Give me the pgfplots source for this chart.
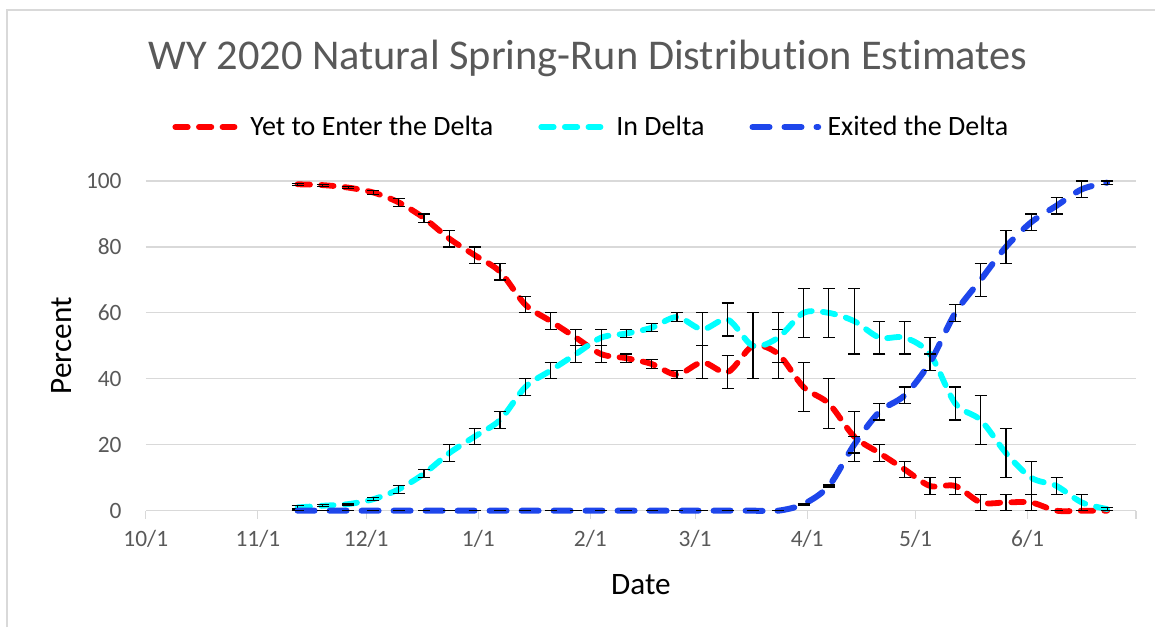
\documentclass[border=0pt]{standalone}
\usepackage{fontspec}
\setmainfont{Carlito}[Ligatures=NoCommon]
\usepackage{pgfplots}
\pgfplotsset{compat=1.18}
\usepackage{pgfplotstable}
\definecolor{gridgray}{HTML}{D9D9D9}
\definecolor{txtgray}{HTML}{595959}
\definecolor{sred}{HTML}{FF0000}
\definecolor{scyan}{HTML}{00FFFF}
\definecolor{sblue}{RGB}{30,70,235}
\pgfplotsset{
  thin legend/.style={legend image code/.code={\path[draw=none,fill=none] (0pt,-3pt) rectangle (33pt,3pt); \draw[##1, overlay] (1.45pt,0pt) -- (31.05pt,0pt);}},
  thick legend/.style={legend image code/.code={\path[draw=none,fill=none] (0pt,-3pt) rectangle (33pt,3pt); \draw[##1, overlay] (1.5pt,0pt) -- (34.35pt,0pt);}},
  redline/.style={sred, line width=2.9pt, line cap=round, dash pattern=on 6.2pt off 5.6pt},
  cyanline/.style={scyan, line width=2.9pt, line cap=round, dash pattern=on 6.2pt off 5.6pt},
  blueline/.style={sblue, line width=3pt, line cap=round, dash pattern=on 8.5pt off 7.5pt},
}

\pgfplotstableread{
d r re c ce b be
42 99 0.3 1 0.5 0 0
49 98.75 0.3 1.5 0.3 0 0
56 98 0.3 2 0.3 0 0
63 96.5 0.5 3.5 0.5 0 0
70 93.5 1.25 6.5 1.25 0 0
77 88.75 1.25 11.25 1.25 0 0
84 82.5 2.5 17.5 2.5 0 0
91 77.5 2.5 22.5 2.5 0 0
98 72.5 2.5 27.5 2.5 0 0
105 62.5 2.5 37.5 2.5 0 0
112 57.5 2.5 42.5 2.5 0 0
119 52.5 2.5 47.5 2.5 0 0
126 47.5 2.5 52.5 2.5 0 0
133 46.25 1.25 53.75 1.25 0 0
140 44.5 1.25 55.5 1.25 0 0
147 41.25 1.25 58.75 1.25 0 0
154 45 5 55 5 0 0
161 42 5 58 5 0 0
168 50 10 50 10 0 0
175 47.5 7.5 52.5 7.5 0 0
182 37.5 7.5 60 7.5 2 0.3
189 32.5 7.5 60 7.5 7.5 0.3
196 22.5 7.5 57.5 10 20 2.5
203 17.5 2.5 52.5 5 30 2.5
210 12.5 2.5 52.5 5 35 2.5
217 7.5 2.5 47.5 5 45 2.5
224 7.5 2.5 32.5 5 60 2.5
231 2.5 2.5 27.5 7.5 70 5
238 2.5 2.5 17.5 7.5 80 5
245 2.5 2.5 10 5 87.5 2.5
252 0 0 7.5 2.5 92.5 2.5
259 0 0 2.5 2.5 97.5 2.5
266 0 0 0.5 0.5 99.5 0.5
}\data

\begin{document}
\begin{tikzpicture}
\useasboundingbox (0,0) rectangle (577.5pt,313.5pt);
\draw[gridgray, line width=0.6pt] (3.5pt,0pt) -- (3.5pt,308.5pt) -- (577.5pt,308.5pt);
\begin{axis}[
  at={(72.9pt,58.15pt)}, anchor=south west,
  scale only axis, width=495.1pt, height=164.85pt,
  xmin=0, xmax=274, ymin=0, ymax=100,
  clip=false,
  axis x line*=bottom, axis y line*=left,
  x axis line style={draw=gridgray, line width=0.6pt},
  y axis line style={draw=none},
  xtick={0,31,61,92,123,152,183,213,244,274},
  xticklabels={10/1,11/1,12/1,1/1,2/1,3/1,4/1,5/1,6/1,},
  ytick={0,20,...,100},
  ymajorgrids, grid style={gridgray, line width=0.6pt},
  tick align=outside, major tick length=4pt,
  xtick style={draw=gridgray, line width=0.6pt},
  ytick style={draw=none},
  /pgf/number format/assume math mode=true,
  ticklabel style={font=\fontsize{11.7}{14}\selectfont, text=txtgray},
  yticklabel style={anchor=east, inner sep=0pt, xshift=-7.9pt},
  xticklabel style={anchor=base, inner sep=0pt, yshift=-14pt},
  title={WY 2020 Natural Spring-Run Distribution Estimates},
  title style={at={(axis description cs:0.4466,1.3003)}, anchor=base, font=\fontsize{21.2}{25}\selectfont, text=txtgray, inner sep=0pt},
  xlabel={Date},
  xlabel style={at={(axis description cs:0.5,-0.2238)}, anchor=center, font=\fontsize{15.6}{18}\selectfont, inner sep=0pt},
  ylabel={Percent},
  ylabel style={at={(axis description cs:-0.0846,0.5)}, anchor=center, font=\fontsize{15.6}{18}\selectfont, inner sep=0pt},
  legend columns=3,
  legend style={at={(axis description cs:0.0265,1.1638)}, anchor=west, draw=none, fill=none, inner sep=0pt,
    font=\fontsize{14}{16}\selectfont, nodes={inner sep=0pt},
    /tikz/every odd column/.append style={column sep=6pt},
    /tikz/every even column/.append style={column sep=22.5pt}},
  legend cell align=left,
  error bars/y dir=both, error bars/y explicit,
  error bars/error bar style={solid, black, line width=0.6pt, line cap=butt},
  error bars/error mark options={solid, black, rotate=90, mark size=3pt, line width=0.6pt},
]
\addlegendimage{redline, thin legend}
\addlegendentry{Yet to Enter the Delta}
\addlegendimage{cyanline, thin legend}
\addlegendentry{In Delta}
\addlegendimage{blueline, thick legend}
\addlegendentry{Exited the Delta}
\addplot[redline, smooth, forget plot]
  table[x=d, y=r, y error=re] {\data};
\addplot[cyanline, smooth, forget plot]
  table[x=d, y=c, y error=ce] {\data};
\addplot[blueline, smooth, forget plot]
  table[x=d, y=b, y error=be] {\data};
\end{axis}
\end{tikzpicture}
\end{document}
